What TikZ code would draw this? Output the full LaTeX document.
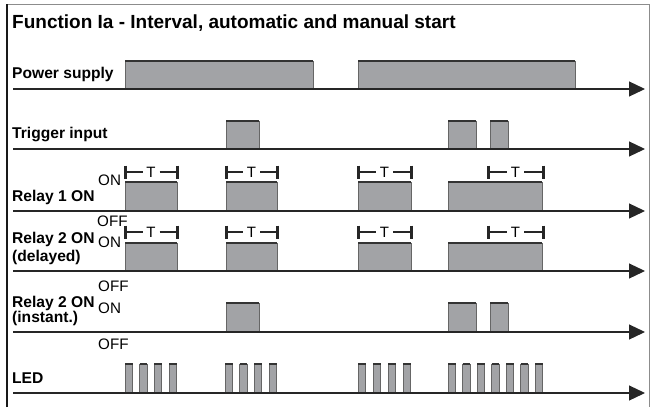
\documentclass[tikz,border=0pt]{standalone}
\usepackage{fontspec}
\setmainfont{Liberation Sans}
\usetikzlibrary{arrows.meta}
\definecolor{pulsefill}{RGB}{162,163,166}
\tikzset{
  axisline/.style={draw=black!85, line width=1.2pt, -{Triangle[length=16pt,width=15pt]}},
  pulsebox/.style={fill=pulsefill, draw=black!60, line width=0.7pt},
  pulsetop/.style={draw=black!80, line width=1.5pt},
  lbl/.style={anchor=base west, inner sep=0pt, font=\bfseries\fontsize{15.6}{17}\selectfont},
  stlbl/.style={anchor=base west, inner sep=0pt, font=\fontsize{15.2}{16}\selectfont},
  tbar/.style={draw=black!85, line width=3pt},
  tline/.style={draw=black!85, line width=1.2pt},
  tchar/.style={inner sep=0pt, font=\fontsize{15}{16}\selectfont},
}
\newcommand\pul[4]{\path[pulsebox] (#1,#4) rectangle (#2,#3); \draw[pulsetop] (#1,#3) -- (#2,#3);}
\newcommand\tmark[4]{%
  \draw[tbar] (#1,#3-6.5) -- (#1,#3+6.5);
  \draw[tbar] (#2,#3-6.5) -- (#2,#3+6.5);
  \node[tchar] (#4) at ({(#1+#2)/2},#3) {T};
  \draw[tline] (#1,#3) -- ({(#1+#2)/2-8.5},#3);
  \draw[tline] ({(#1+#2)/2+8.5},#3) -- (#2,#3);}
\begin{document}
\begin{tikzpicture}[x=1pt,y=-1pt]
\useasboundingbox (0,0) rectangle (655,407);
% frame
\draw[black!45, line width=1pt] (7,4) -- (649,4) -- (649,407);
\draw[black!90, line width=1.5pt] (7,407) -- (7,3.5);
% title
\node[anchor=base west, inner sep=0pt, font=\bfseries\fontsize{19}{21}\selectfont] (title) at (12,28) {Function Ia - Interval, automatic and manual start};
% labels
\node[lbl] (lps) at (12,78) {Power supply};
\node[lbl] (ltr) at (12,138.5) {Trigger input};
\node[lbl] (lr1) at (12,201) {Relay 1 ON};
\node[lbl] (lr2a) at (12,243) {Relay 2 ON};
\node[lbl] (lr2b) at (12,261.5) {(delayed)};
\node[lbl] (lr3a) at (12,307) {Relay 2 ON};
\node[lbl] (lr3b) at (12,322.5) {(instant.)};
\node[lbl] (lled) at (12,383) {LED};
% state labels
\node[stlbl] (on1) at (98,185.5) {ON};
\node[stlbl] (off2) at (97,226) {OFF};
\node[stlbl] (on2) at (98,247) {ON};
\node[stlbl] (off3) at (98,291.5) {OFF};
\node[stlbl] (on3) at (98,313) {ON};
\node[stlbl] (off4) at (98,349.5) {OFF};
% power supply
\pul{125}{313}{61}{89}
\pul{358}{575}{61}{89}
% trigger
\pul{226}{259}{121}{149}
\pul{448}{476}{121}{149}
\pul{490}{508}{121}{149}
% relay 1
\pul{125}{177}{182}{211}
\pul{226}{277}{182}{211}
\pul{358}{411}{182}{211}
\pul{448}{542}{182}{211}
\tmark{125}{177}{172}{ta1}
\tmark{226}{277}{172}{ta2}
\tmark{358}{411}{172}{ta3}
\tmark{488}{543}{172}{ta4}
% relay 2 delayed
\pul{125}{177}{243}{271}
\pul{226}{277}{243}{271}
\pul{358}{411}{243}{271}
\pul{448}{542}{243}{271}
\tmark{125}{177}{232}{tb1}
\tmark{226}{277}{232}{tb2}
\tmark{358}{411}{232}{tb3}
\tmark{488}{543}{232}{tb4}
% relay 2 instant
\pul{226}{259}{303}{332}
\pul{448}{476}{303}{332}
\pul{490}{508}{303}{332}
% LED
\foreach \s in {125,139.5,154,169,225,239.5,254,269,358,373,388,403,448,462.5,477,491.5,506,520.5,535}
  {\pul{\s}{\s+7.5}{364}{393}}
% axes
\foreach \y/\n in {89/a,149/b,211/c,271/d,332/e,393/f}{
  \coordinate (s\n) at (13,\y);
  \coordinate (e\n) at (645,\y);
  \draw[axisline] (s\n) -- (e\n);
}
\end{tikzpicture}
\end{document}
